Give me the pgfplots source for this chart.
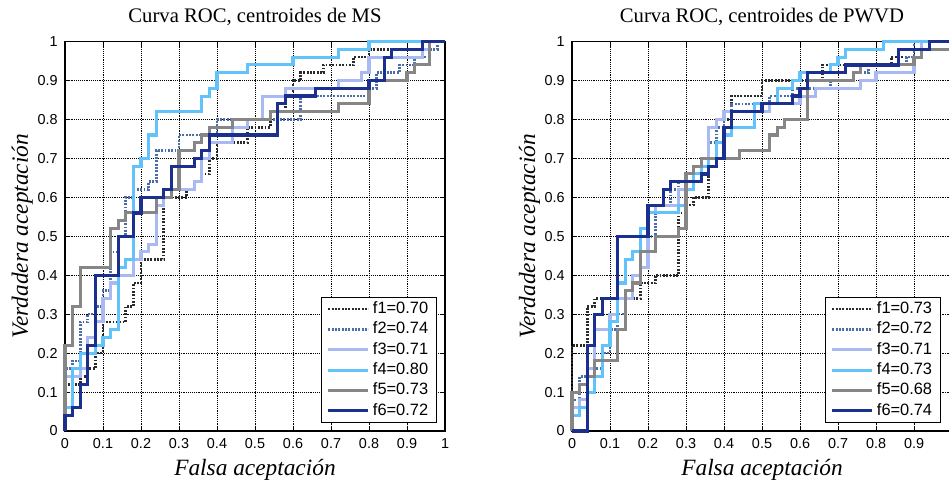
\documentclass[border=0pt]{standalone}
\usepackage{fontspec}
\setmainfont{Liberation Serif}
\newfontfamily\arial{Liberation Sans}
\usepackage{pgfplots}
\pgfplotsset{compat=1.18}
\definecolor{cA}{HTML}{2A2A2A}
\definecolor{cB}{HTML}{4A6CA8}
\definecolor{cC}{HTML}{A9B9F2}
\definecolor{cD}{HTML}{62C3FB}
\definecolor{cE}{HTML}{868686}
\definecolor{cF}{HTML}{1B2F8E}
\pgfplotsset{
  rocax/.style={
    scale only axis, width=285pt, height=292.1pt,
    xmin=0, xmax=1, ymin=0, ymax=1, clip=false,
    xtick={0,0.1,0.2,0.3,0.4,0.5,0.6,0.7,0.8,0.9,1},
    ytick={0,0.1,0.2,0.3,0.4,0.5,0.6,0.7,0.8,0.9,1},
    grid=major,
    major grid style={black, line width=0.5pt, dash pattern=on 0.7pt off 0.7pt},
    axis line style={black, line width=1.1pt},
    tick align=inside, major tick length=3pt, tick style={black, line width=0.5pt},
    tick label style={font=\arial\fontsize{10.8}{12}\selectfont},
    /pgf/number format/assume math mode=true,
    yticklabel style={xshift=-2pt},
    xticklabel style={yshift=-2pt},
    title style={anchor=base, font=\fontsize{15.5}{18}\selectfont},
    xlabel style={anchor=base, font=\itshape\fontsize{17.5}{20}\selectfont},
    ylabel style={anchor=base, font=\itshape\fontsize{17.5}{20}\selectfont},
    legend image code/.code={\draw[##1] (0pt,0pt) -- (30pt,0pt);},
    legend cell align=left,
    legend style={anchor=south east, draw=black, line width=0.9pt, fill=white,
      font=\arial\fontsize{12.3}{14}\selectfont, inner xsep=4pt, inner ysep=1.5pt,
      row sep=0.75pt,
      nodes={inner xsep=2.2pt, inner ysep=1.5pt, text height=9pt, text depth=2.5pt}},
  },
  s1/.style={cA, line width=2pt, dash pattern=on 1.4pt off 1.1pt},
  s2/.style={cB, line width=2pt, dash pattern=on 1.4pt off 1.1pt},
  s3/.style={cC, line width=2.3pt},
  s4/.style={cD, line width=2.3pt},
  s5/.style={cE, line width=2.3pt},
  s6/.style={cF, line width=2.4pt},
}
\begin{document}
\begin{tikzpicture}
\path[use as bounding box] (0,0) rectangle (711.75pt,362.25pt);
\begin{axis}[rocax, at={(48.75pt,39pt)}, anchor=south west,
  title={Curva ROC, centroides de MS},
  title style={at={([yshift=8.6pt]axis description cs:0.5,1)}},
  xlabel={Falsa aceptación},
  xlabel style={at={([yshift=-33pt]axis description cs:0.5,0)}},
  ylabel={Verdadera aceptación},
  ylabel style={at={([xshift=-27.75pt]axis description cs:0,0.5)}},
  legend style={at={(axis description cs:0.979,0.0205)}}]
\addplot[s1] coordinates {(0,0)(0,0.12)(0.04,0.12)(0.04,0.14)(0.06,0.14)(0.06,0.16)(0.08,0.16)(0.08,0.2)(0.1,0.2)(0.1,0.28)(0.16,0.28)(0.16,0.32)(0.18,0.32)(0.18,0.38)(0.2,0.38)(0.2,0.44)(0.26,0.44)(0.26,0.6)(0.32,0.6)(0.32,0.62)(0.34,0.62)(0.34,0.64)(0.36,0.64)(0.36,0.66)(0.38,0.66)(0.38,0.7)(0.4,0.7)(0.4,0.74)(0.48,0.74)(0.48,0.78)(0.54,0.78)(0.54,0.8)(0.56,0.8)(0.56,0.82)(0.58,0.82)(0.58,0.86)(0.6,0.86)(0.6,0.9)(0.62,0.9)(0.62,0.92)(0.68,0.92)(0.68,0.94)(0.76,0.94)(0.76,0.96)(0.8,0.96)(0.8,0.98)(0.98,0.98)(0.98,1)(1,1)};
\addlegendentry{f1=0.70}
\addplot[s2] coordinates {(0,0)(0,0.16)(0.02,0.16)(0.02,0.18)(0.04,0.18)(0.04,0.28)(0.06,0.28)(0.06,0.3)(0.08,0.3)(0.08,0.32)(0.1,0.32)(0.1,0.36)(0.12,0.36)(0.12,0.46)(0.14,0.46)(0.14,0.5)(0.16,0.5)(0.16,0.6)(0.18,0.6)(0.18,0.62)(0.22,0.62)(0.22,0.64)(0.24,0.64)(0.24,0.72)(0.3,0.72)(0.3,0.76)(0.4,0.76)(0.4,0.8)(0.62,0.8)(0.62,0.86)(0.8,0.86)(0.8,0.88)(0.82,0.88)(0.82,0.92)(0.88,0.92)(0.88,0.94)(0.92,0.94)(0.92,0.96)(0.96,0.96)(0.96,0.98)(0.98,0.98)(0.98,1)(1,1)};
\addlegendentry{f2=0.74}
\addplot[s3] coordinates {(0,0)(0,0.14)(0.04,0.14)(0.04,0.16)(0.06,0.16)(0.06,0.24)(0.08,0.24)(0.08,0.28)(0.1,0.28)(0.1,0.34)(0.12,0.34)(0.12,0.38)(0.14,0.38)(0.14,0.4)(0.18,0.4)(0.18,0.44)(0.2,0.44)(0.2,0.46)(0.22,0.46)(0.22,0.48)(0.24,0.48)(0.24,0.58)(0.26,0.58)(0.26,0.62)(0.34,0.62)(0.34,0.64)(0.36,0.64)(0.36,0.7)(0.38,0.7)(0.38,0.74)(0.44,0.74)(0.44,0.78)(0.48,0.78)(0.48,0.8)(0.52,0.8)(0.52,0.86)(0.58,0.86)(0.58,0.88)(0.72,0.88)(0.72,0.9)(0.78,0.9)(0.78,0.92)(0.8,0.92)(0.8,0.96)(0.94,0.96)(0.94,0.98)(0.96,0.98)(0.96,1)(1,1)};
\addlegendentry{f3=0.71}
\addplot[s4] coordinates {(0,0)(0,0.06)(0.02,0.06)(0.02,0.16)(0.04,0.16)(0.04,0.2)(0.08,0.2)(0.08,0.22)(0.1,0.22)(0.1,0.24)(0.12,0.24)(0.12,0.26)(0.14,0.26)(0.14,0.42)(0.16,0.42)(0.16,0.44)(0.18,0.44)(0.18,0.68)(0.2,0.68)(0.2,0.7)(0.22,0.7)(0.22,0.76)(0.24,0.76)(0.24,0.82)(0.36,0.82)(0.36,0.86)(0.38,0.86)(0.38,0.88)(0.4,0.88)(0.4,0.92)(0.48,0.92)(0.48,0.94)(0.6,0.94)(0.6,0.96)(0.72,0.96)(0.72,0.98)(0.8,0.98)(0.8,1)(1,1)};
\addlegendentry{f4=0.80}
\addplot[s5] coordinates {(0,0)(0,0.22)(0.02,0.22)(0.02,0.32)(0.04,0.32)(0.04,0.42)(0.12,0.42)(0.12,0.52)(0.14,0.52)(0.14,0.54)(0.16,0.54)(0.16,0.56)(0.24,0.56)(0.24,0.6)(0.28,0.6)(0.28,0.62)(0.3,0.62)(0.3,0.72)(0.34,0.72)(0.34,0.74)(0.36,0.74)(0.36,0.76)(0.38,0.76)(0.38,0.78)(0.44,0.78)(0.44,0.8)(0.54,0.8)(0.54,0.82)(0.72,0.82)(0.72,0.84)(0.8,0.84)(0.8,0.9)(0.9,0.9)(0.9,0.92)(0.92,0.92)(0.92,0.94)(0.96,0.94)(0.96,1)(1,1)};
\addlegendentry{f5=0.73}
\addplot[s6] coordinates {(0,0)(0,0.04)(0.02,0.04)(0.02,0.06)(0.04,0.06)(0.04,0.12)(0.06,0.12)(0.06,0.22)(0.08,0.22)(0.08,0.4)(0.14,0.4)(0.14,0.5)(0.18,0.5)(0.18,0.56)(0.2,0.56)(0.2,0.6)(0.26,0.6)(0.26,0.62)(0.28,0.62)(0.28,0.68)(0.34,0.68)(0.34,0.7)(0.36,0.7)(0.36,0.72)(0.38,0.72)(0.38,0.76)(0.56,0.76)(0.56,0.84)(0.58,0.84)(0.58,0.86)(0.66,0.86)(0.66,0.88)(0.8,0.88)(0.8,0.9)(0.84,0.9)(0.84,0.96)(0.86,0.96)(0.86,0.98)(0.94,0.98)(0.94,1)(1,1)};
\addlegendentry{f6=0.72}
\end{axis}
\begin{axis}[rocax, at={(429pt,39pt)}, anchor=south west,
  xticklabels={0,0.1,0.2,0.3,0.4,0.5,0.6,0.7,0.8,0.9,{}},
  title={Curva ROC, centroides de PWVD},
  title style={at={([yshift=8.6pt]axis description cs:0.5,1)}},
  xlabel={Falsa aceptación},
  xlabel style={at={([yshift=-33pt]axis description cs:0.5,0)}},
  ylabel={Verdadera aceptación},
  ylabel style={at={([xshift=-27.75pt]axis description cs:0,0.5)}},
  legend style={at={(axis description cs:0.971,0.0205)}}]
\addplot[s1] coordinates {(0,0)(0,0.22)(0.04,0.22)(0.04,0.32)(0.06,0.32)(0.06,0.34)(0.18,0.34)(0.18,0.38)(0.22,0.38)(0.22,0.4)(0.28,0.4)(0.28,0.56)(0.3,0.56)(0.3,0.58)(0.32,0.58)(0.32,0.6)(0.36,0.6)(0.36,0.74)(0.38,0.74)(0.38,0.78)(0.4,0.78)(0.4,0.8)(0.42,0.8)(0.42,0.86)(0.5,0.86)(0.5,0.9)(0.66,0.9)(0.66,0.94)(0.84,0.94)(0.84,0.96)(0.9,0.96)(0.9,1)(1,1)};
\addlegendentry{f1=0.73}
\addplot[s2] coordinates {(0,0)(0,0.08)(0.02,0.08)(0.02,0.14)(0.04,0.14)(0.04,0.16)(0.08,0.16)(0.08,0.2)(0.1,0.2)(0.1,0.26)(0.12,0.26)(0.12,0.3)(0.14,0.3)(0.14,0.34)(0.16,0.34)(0.16,0.38)(0.18,0.38)(0.18,0.42)(0.2,0.42)(0.2,0.5)(0.22,0.5)(0.22,0.58)(0.26,0.58)(0.26,0.62)(0.28,0.62)(0.28,0.64)(0.3,0.64)(0.3,0.66)(0.34,0.66)(0.34,0.7)(0.36,0.7)(0.36,0.74)(0.38,0.74)(0.38,0.78)(0.4,0.78)(0.4,0.82)(0.42,0.82)(0.42,0.84)(0.52,0.84)(0.52,0.86)(0.58,0.86)(0.58,0.88)(0.68,0.88)(0.68,0.9)(0.74,0.9)(0.74,0.92)(0.78,0.92)(0.78,0.94)(0.88,0.94)(0.88,0.96)(0.9,0.96)(0.9,1)(1,1)};
\addlegendentry{f2=0.72}
\addplot[s3] coordinates {(0,0)(0,0.06)(0.02,0.06)(0.02,0.08)(0.04,0.08)(0.04,0.16)(0.06,0.16)(0.06,0.26)(0.1,0.26)(0.1,0.3)(0.12,0.3)(0.12,0.34)(0.16,0.34)(0.16,0.4)(0.18,0.4)(0.18,0.42)(0.2,0.42)(0.2,0.56)(0.22,0.56)(0.22,0.58)(0.28,0.58)(0.28,0.62)(0.3,0.62)(0.3,0.64)(0.32,0.64)(0.32,0.68)(0.34,0.68)(0.34,0.7)(0.36,0.7)(0.36,0.78)(0.38,0.78)(0.38,0.8)(0.4,0.8)(0.4,0.82)(0.52,0.82)(0.52,0.84)(0.6,0.84)(0.6,0.86)(0.64,0.86)(0.64,0.88)(0.76,0.88)(0.76,0.9)(0.8,0.9)(0.8,0.92)(0.9,0.92)(0.9,0.96)(0.92,0.96)(0.92,1)(1,1)};
\addlegendentry{f3=0.71}
\addplot[s4] coordinates {(0,0)(0,0.04)(0.02,0.04)(0.02,0.06)(0.04,0.06)(0.04,0.1)(0.06,0.1)(0.06,0.14)(0.08,0.14)(0.08,0.22)(0.1,0.22)(0.1,0.28)(0.12,0.28)(0.12,0.38)(0.14,0.38)(0.14,0.44)(0.16,0.44)(0.16,0.46)(0.18,0.46)(0.18,0.52)(0.2,0.52)(0.2,0.56)(0.28,0.56)(0.28,0.58)(0.3,0.58)(0.3,0.62)(0.32,0.62)(0.32,0.66)(0.34,0.66)(0.34,0.68)(0.36,0.68)(0.36,0.7)(0.38,0.7)(0.38,0.74)(0.4,0.74)(0.4,0.76)(0.42,0.76)(0.42,0.78)(0.48,0.78)(0.48,0.84)(0.54,0.84)(0.54,0.88)(0.58,0.88)(0.58,0.9)(0.6,0.9)(0.6,0.92)(0.68,0.92)(0.68,0.94)(0.7,0.94)(0.7,0.96)(0.72,0.96)(0.72,0.98)(0.82,0.98)(0.82,1)(1,1)};
\addlegendentry{f4=0.73}
\addplot[s5] coordinates {(0,0)(0,0.1)(0.02,0.1)(0.02,0.12)(0.04,0.12)(0.04,0.14)(0.06,0.14)(0.06,0.18)(0.12,0.18)(0.12,0.26)(0.14,0.26)(0.14,0.36)(0.16,0.36)(0.16,0.38)(0.18,0.38)(0.18,0.46)(0.22,0.46)(0.22,0.5)(0.28,0.5)(0.28,0.52)(0.3,0.52)(0.3,0.66)(0.32,0.66)(0.32,0.68)(0.34,0.68)(0.34,0.7)(0.44,0.7)(0.44,0.72)(0.52,0.72)(0.52,0.76)(0.54,0.76)(0.54,0.78)(0.56,0.78)(0.56,0.8)(0.62,0.8)(0.62,0.9)(0.74,0.9)(0.74,0.92)(0.76,0.92)(0.76,0.94)(0.9,0.94)(0.9,0.96)(0.92,0.96)(0.92,0.98)(1,0.98)(1,1)};
\addlegendentry{f5=0.68}
\addplot[s6] coordinates {(0,0)(0.04,0)(0.04,0.22)(0.06,0.22)(0.06,0.3)(0.08,0.3)(0.08,0.34)(0.12,0.34)(0.12,0.5)(0.2,0.5)(0.2,0.58)(0.24,0.58)(0.24,0.62)(0.26,0.62)(0.26,0.64)(0.34,0.64)(0.34,0.66)(0.36,0.66)(0.36,0.68)(0.38,0.68)(0.38,0.7)(0.4,0.7)(0.4,0.78)(0.42,0.78)(0.42,0.82)(0.5,0.82)(0.5,0.84)(0.58,0.84)(0.58,0.86)(0.6,0.86)(0.6,0.88)(0.62,0.88)(0.62,0.92)(0.72,0.92)(0.72,0.94)(0.86,0.94)(0.86,0.98)(0.94,0.98)(0.94,1)(1,1)};
\addlegendentry{f6=0.74}
\end{axis}
\end{tikzpicture}
\end{document}
